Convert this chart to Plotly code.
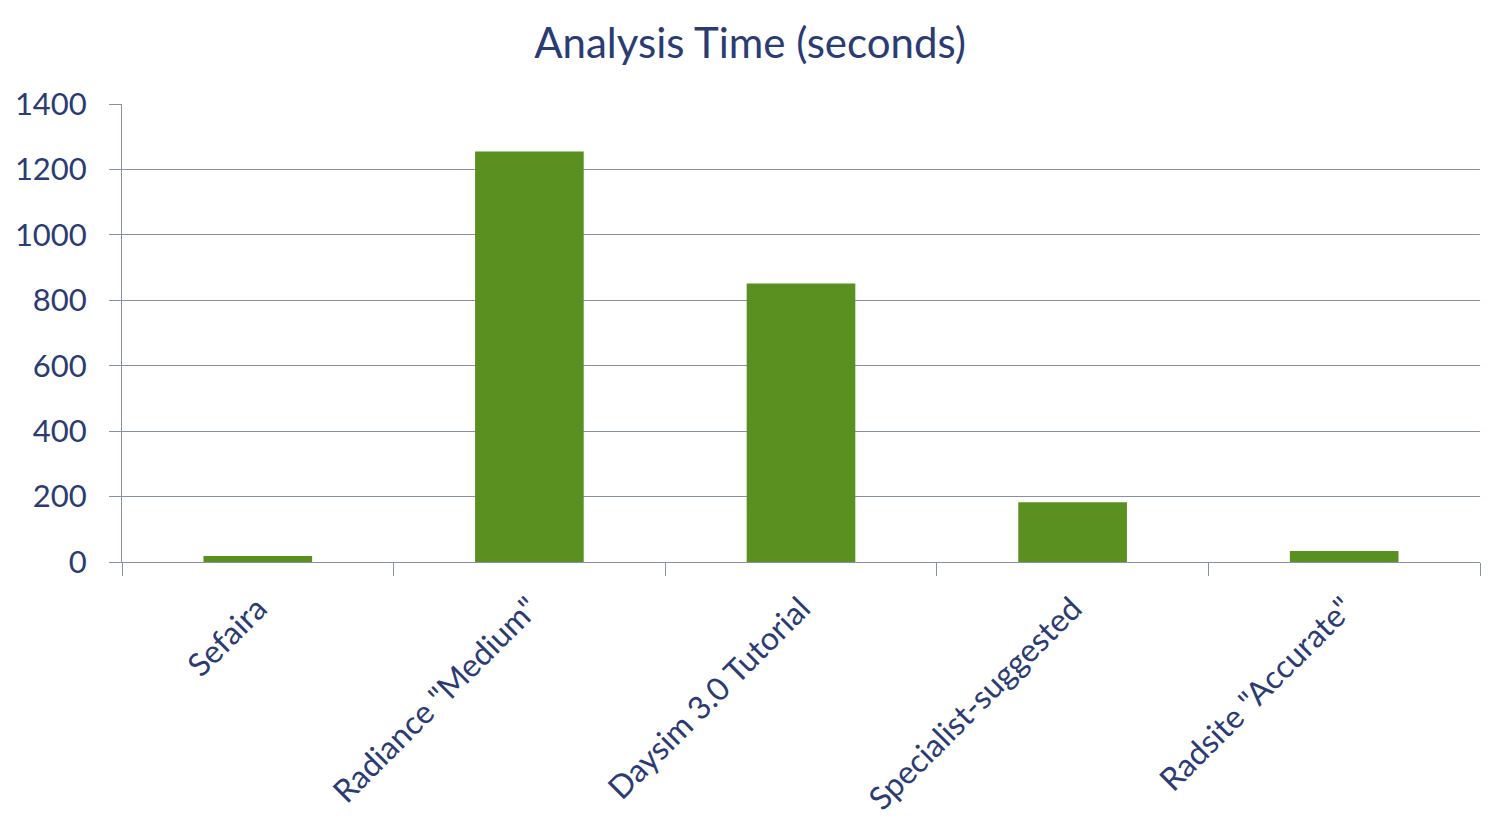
import plotly.graph_objects as go

categories = ["Sefaira", 'Radiance "Medium"', "Daysim 3.0 Tutorial", "Specialist-suggested", 'Radsite "Accurate"']
values = [18, 1255, 851, 183, 34]
y_ticks = [0, 200, 400, 600, 800, 1000, 1200, 1400]

text_color = "#2b3b73"
grid_color = "#8790a8"
bar_color = "#5a901f"

fig = go.Figure(go.Bar(x=categories, y=values, marker=dict(color=bar_color, line=dict(width=0))))

fig.update_layout(
    width=1504, height=832,
    margin=dict(l=114, r=32, t=96, b=278),
    paper_bgcolor="white", plot_bgcolor="white",
    bargap=0.6,
    showlegend=False,
    font=dict(family="Lato, Open Sans, sans-serif", color=text_color),
    title=dict(text="Analysis Time (seconds)", x=0.4934, xanchor="center", y=0.958, yanchor="middle",
               font=dict(size=42, color=text_color)),
)
fig.update_xaxes(
    showline=True, linecolor=grid_color, linewidth=1,
    ticks="outside", ticklen=13, tickcolor=grid_color, tickson="boundaries",
    tickangle=-45, tickfont=dict(size=32, color=text_color),
    ticklabelstandoff=14, automargin=False,
    showgrid=False,
)
fig.update_yaxes(
    range=[0, 1400], tickvals=y_ticks,
    showgrid=True, gridcolor=grid_color, gridwidth=1,
    showline=True, linecolor=grid_color, linewidth=1,
    ticks="outside", ticklen=12, tickcolor=grid_color,
    tickfont=dict(size=31, color=text_color),
    ticklabelstandoff=16, automargin=False,
    zeroline=False,
)

fig.write_html("out.html")
